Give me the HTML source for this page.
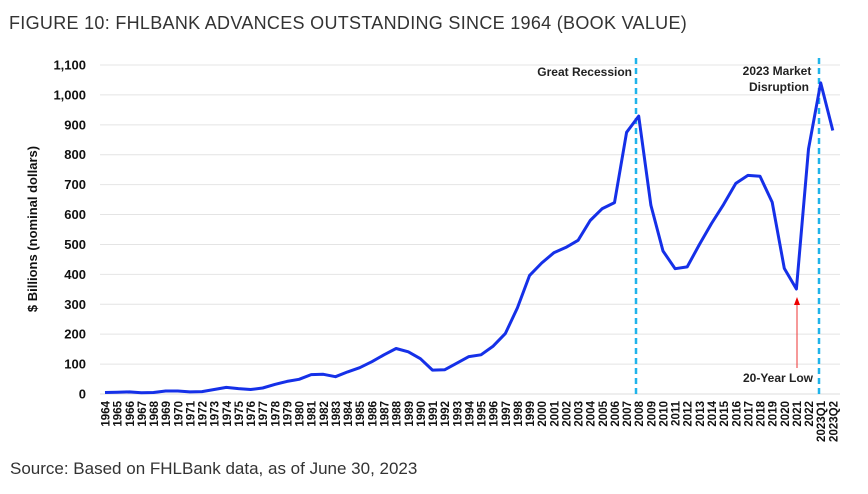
<!DOCTYPE html>
<html><head><meta charset="utf-8"><style>
body{margin:0;background:#fff;width:868px;height:489px;overflow:hidden;font-family:"Liberation Sans",sans-serif;}
</style></head><body>
<svg width="868" height="489" xmlns="http://www.w3.org/2000/svg">
<text x="9" y="29" font-size="18" fill="#333" letter-spacing="0.3">FIGURE 10: FHLBANK ADVANCES OUTSTANDING SINCE 1964 (BOOK VALUE)</text>
<g id="grid"></g><g id="yticks"></g><g id="xticks"></g>
<text transform="translate(37,229) rotate(-90)" text-anchor="middle" font-size="13" font-weight="bold" fill="#111">$ Billions (nominal dollars)</text>
<line x1="636" y1="58" x2="636" y2="396" stroke="#1fb4ea" stroke-width="2.5" stroke-dasharray="6,4"/>
<line x1="819" y1="58" x2="819" y2="396" stroke="#1fb4ea" stroke-width="2.5" stroke-dasharray="6,4"/>
<text x="632" y="76" text-anchor="end" font-size="12" font-weight="bold" fill="#222">Great Recession</text>
<text x="777" y="75" text-anchor="middle" font-size="12" font-weight="bold" fill="#222"><tspan x="777">2023 Market</tspan><tspan x="779" dy="16">Disruption</tspan></text>
<text x="813" y="382" text-anchor="end" font-size="12" font-weight="bold" fill="#222">20-Year Low</text>
<line x1="797" y1="368" x2="797" y2="304" stroke="#e33" stroke-width="1"/>
<polygon points="797,297 794,305 800,305" fill="#e00"/>
<path id="line" fill="none" stroke="#1530e8" stroke-width="3" stroke-linejoin="round"/>
<text x="10" y="474" font-size="17" fill="#333">Source: Based on FHLBank data, as of June 30, 2023</text>
</svg>
<script>
const categories=[];for(let y=1964;y<=2022;y++)categories.push(String(y));categories.push("2023Q1","2023Q2");
const values=[5,6,7,4,5,10,10,7,8,15,22,18,15,20,32,42,49,65,66,58,74,88,108,131,152,141,118,80,81,103,125,131,160,202,288,396,438,472,490,514,580,620,640,875,929,631,478,419,425,500,570,634,704,731,728,641,420,351,819,1040,881];
const yTicks=[0,100,200,300,400,500,600,700,800,900,1000,1100];
const yTickLabels=["0","100","200","300","400","500","600","700","800","900","1,000","1,100"];
const NS="http://www.w3.org/2000/svg";
function xs(i){return 105+i*12.13;}
function ys(v){return 394-v*(329/1100);}
const grid=document.getElementById('grid'),yt=document.getElementById('yticks'),xt=document.getElementById('xticks');
yTicks.forEach((v,k)=>{
 const l=document.createElementNS(NS,'line');
 l.setAttribute('x1',100);l.setAttribute('x2',840);l.setAttribute('y1',ys(v));l.setAttribute('y2',ys(v));
 l.setAttribute('stroke',v===0?'#ddd':'#e4e4e4');l.setAttribute('stroke-width',1);
 
 
 grid.appendChild(l);
 const t=document.createElementNS(NS,'text');
 t.setAttribute('x',86);t.setAttribute('y',ys(v)+4.5);t.setAttribute('text-anchor','end');
 t.setAttribute('font-size','13');t.setAttribute('font-weight','bold');t.setAttribute('fill','#111');
 t.textContent=yTickLabels[k];
 
 
 yt.appendChild(t);
});
categories.forEach((c,i)=>{
 const t=document.createElementNS(NS,'text');
 t.setAttribute('transform','translate('+(xs(i)+4.5)+',401) rotate(-90)');
 t.setAttribute('text-anchor','end');t.setAttribute('font-size','11.5');t.setAttribute('font-weight','bold');t.setAttribute('fill','#111');
 t.textContent=c;
 
 
 xt.appendChild(t);
});
document.getElementById('line').setAttribute('d',values.map((v,i)=>(i?'L':'M')+xs(i).toFixed(1)+','+ys(v).toFixed(1)).join(''));
</script>
</body></html>
